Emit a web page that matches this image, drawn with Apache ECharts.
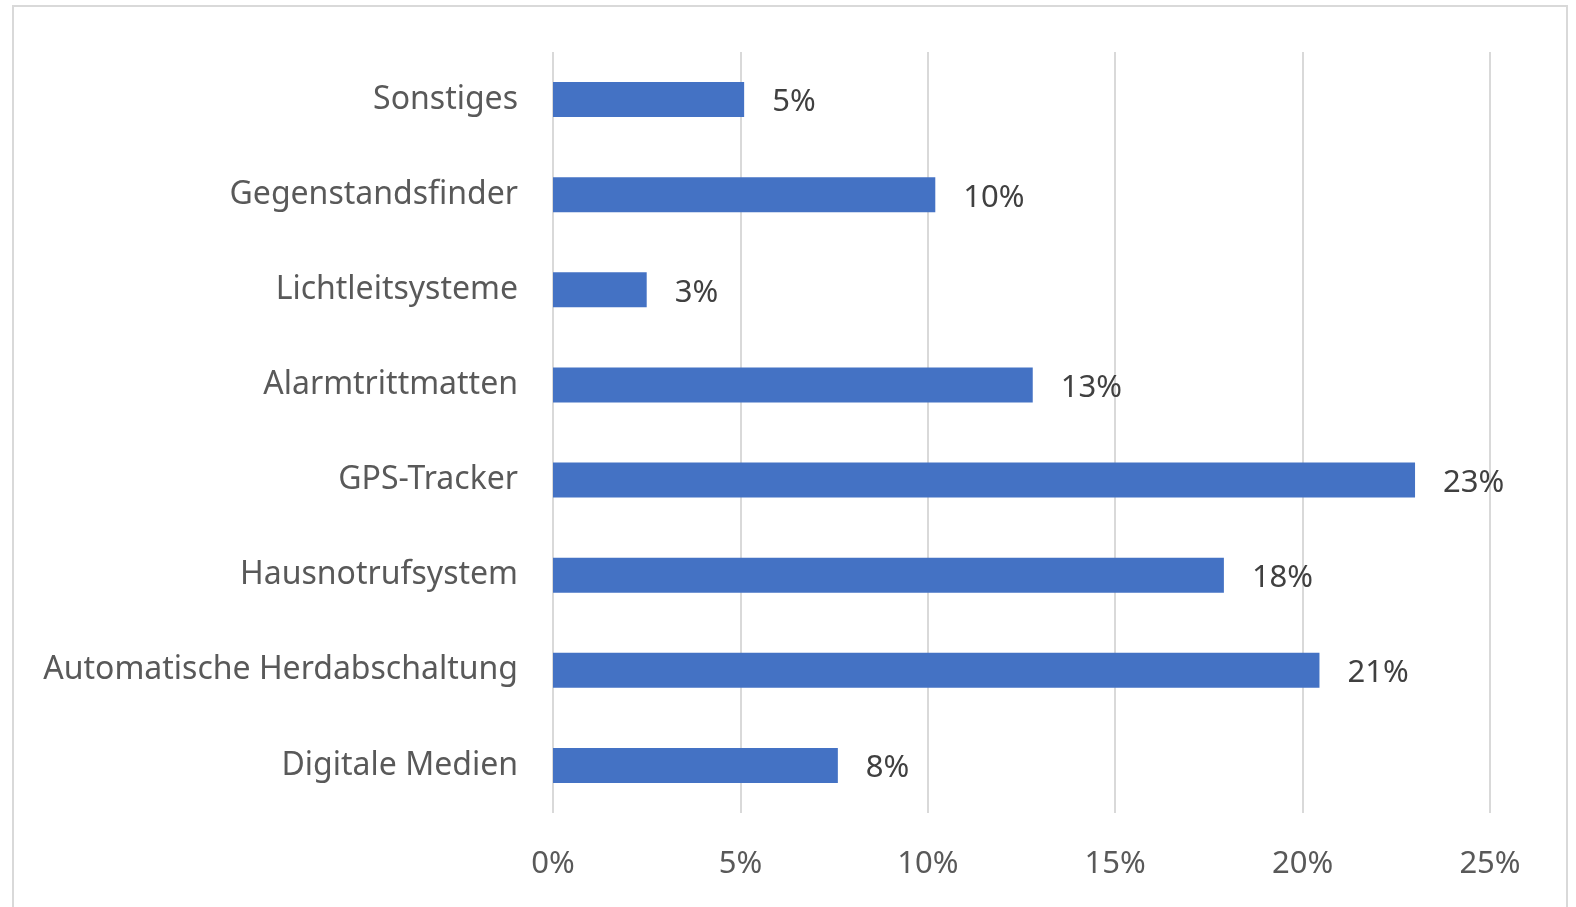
<!DOCTYPE html>
<html>
<head>
    <meta charset="utf-8" />
    <title>Hilfsmittel</title>
    <script src="https://cdn.jsdelivr.net/npm/echarts@6/dist/echarts.min.js"></script>
    <style>
        html, body { margin: 0; padding: 0; background: #fff; }
    </style>
</head>
<body>
<div id="main" style="width: 1576px;height:907px;"></div>
<script type="text/javascript">
    // categories from top to bottom
    var categories = ['Sonstiges', 'Gegenstandsfinder', 'Lichtleitsysteme', 'Alarmtrittmatten',
        'GPS-Tracker', 'Hausnotrufsystem', 'Automatische Herdabschaltung', 'Digitale Medien'];
    // share in percent
    var values = [5.1, 10.2, 2.5, 12.8, 23.0, 17.9, 20.45, 7.6];
    // labels as printed next to the bars
    var labels = ['5%', '10%', '3%', '13%', '23%', '18%', '21%', '8%'];
    var ticks = [0, 5, 10, 15, 20, 25];

    var myChart = echarts.init(document.getElementById('main'));

    var font = 'Noto Sans';

    var option = {
        animation: false,
        graphic: [{
            type: 'rect',
            shape: { x: 13, y: 6, width: 1554, height: 930 },
            style: { fill: 'none', stroke: '#d9d9d9', lineWidth: 2 },
            silent: true
        }],
        grid: {
            left: 553,
            right: 86,
            top: 52,
            bottom: 94
        },
        xAxis: {
            type: 'value',
            min: ticks[0],
            max: ticks[ticks.length - 1],
            interval: 5,
            axisLine: { show: false },
            axisTick: { show: false },
            splitLine: { lineStyle: { color: '#d9d9d9', width: 2 } },
            axisLabel: {
                formatter: '{value}%',
                color: '#595959',
                fontFamily: font,
                fontSize: 31,
                margin: 36
            }
        },
        yAxis: {
            type: 'category',
            inverse: true,
            data: categories,
            axisLine: { show: false },
            axisTick: { show: false },
            axisLabel: {
                color: '#595959',
                fontFamily: font,
                fontSize: 32,
                margin: 35
            }
        },
        series: [
            {
                type: 'bar',
                data: values,
                barWidth: 35,
                itemStyle: { color: '#4472c4' },
                label: {
                    show: true,
                    position: 'right',
                    distance: 28,
                    color: '#404040',
                    fontFamily: font,
                    fontSize: 31,
                    offset: [0, 3],
                    formatter: function (p) { return labels[p.dataIndex]; }
                }
            }
        ]
    };

    myChart.setOption(option);
</script>
</body>
</html>
